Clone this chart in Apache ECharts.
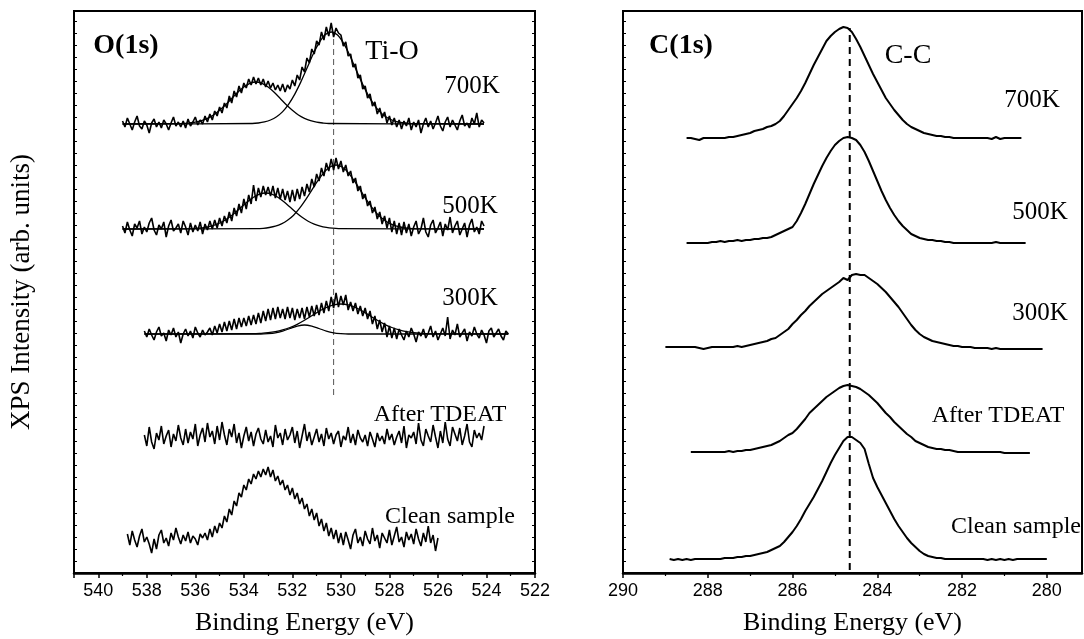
<!DOCTYPE html>
<html>
<head>
<meta charset="utf-8">
<script src="https://cdn.jsdelivr.net/npm/echarts@6/dist/echarts.min.js"></script>
<style>
  html, body { margin: 0; padding: 0; background: #fff; }
  #chart { width: 1084px; height: 639px; }
</style>
</head>
<body>
<div id="chart"></div>
<script>
// Energy grid spacing of the recorded spectra (eV)
const STEP = 0.1;

// ---------- O(1s) region: raw spectra (stacked intensity, arb. units) ----------
const o1sStart = { k700: 539.0, k500: 539.0, k300: 538.1, tdeat: 538.1, clean: 538.8 };

const o1s700K = [
  452, 446, 455, 449, 443, 451, 457, 447, 444, 452, 448, 440, 450, 454, 446, 451, 445, 453, 449, 443, 450, 456, 447, 451, 446,
  452, 445, 454, 447, 451, 456, 448, 453, 449, 457, 451, 459, 453, 462, 457, 466, 460, 470, 465, 477, 470, 482, 476, 487, 480,
  490, 485, 494, 488, 496, 489, 495, 488, 494, 486, 492, 485, 490, 483, 488, 482, 489, 481, 488, 484, 493, 487, 498, 493, 506,
  501, 515, 510, 524, 519, 532, 528, 541, 533, 546, 537, 550, 536, 545, 540, 538, 527, 531, 517, 519, 506, 509, 495, 498, 484,
  487, 475, 479, 467, 471, 459, 465, 455, 461, 450, 457, 448, 455, 446, 453, 444, 452, 447, 455,
  443, 451, 446, 453, 440, 449, 455, 446, 452, 444, 450, 457, 447, 442, 451, 456, 446, 453, 448, 443, 452, 458, 447, 450, 445, 455, 449, 460, 446, 453, 450
];

const o1s500K = [
  347, 340, 351, 343, 337, 349, 345, 352, 339, 346, 341, 350, 355, 343, 338, 348, 344, 351, 336, 347, 353, 342, 345, 349, 340, 352, 346, 338, 350,
  341, 348, 342, 351, 339, 349, 343, 352, 344, 353, 345, 355, 347, 357, 350, 361, 352, 365, 357, 369, 360, 374, 364, 378, 369,
  388, 372, 385, 376, 387, 378, 386, 377, 387, 375, 385, 374, 384, 373, 382, 371, 383, 372, 384, 374, 386, 377, 389, 381, 394,
  386, 399, 392, 405, 397, 410, 402, 414, 403, 415, 404, 412, 401, 408, 397, 402, 390, 395, 382, 387, 374, 379, 367, 372, 360,
  366, 354, 361, 349, 357, 345, 355, 341, 352, 339, 350, 338, 351, 340, 349, 337,
  346, 352, 339, 344, 355, 341, 336, 348, 353, 340, 345, 351, 337, 349, 343, 356, 340, 347, 352, 338, 344, 350, 336, 348, 354, 341, 346, 339, 352, 347
];

const o1s300K = [
  242, 236, 244, 238, 233, 241, 246, 237, 240, 232, 243, 238, 245, 236, 241, 230, 239, 244, 237, 242, 235, 246, 240, 236, 243, 238, 241,
  245, 238, 247, 240, 249, 241, 251, 242, 252, 243, 254, 244, 255, 246, 255, 247, 257, 248, 258, 249, 260, 250, 262, 252, 264,
  253, 265, 254, 266, 255, 264, 254, 266, 255, 265, 253, 264, 255, 265, 254, 266, 256, 267, 257, 268, 258, 270, 260, 272, 262,
  276, 265, 280, 266, 277, 268, 278, 263, 271, 262, 270, 259, 267, 257, 265, 254, 262, 249, 257, 244, 253, 241, 250, 236, 247,
  235, 245, 234, 244,
  238, 233, 242, 236, 245, 239, 231, 241, 237, 244, 235, 240, 247, 236, 242, 233, 239, 245, 237, 256, 234, 243, 238, 249, 236,
  240, 244, 232, 241, 237, 246, 239, 235, 243, 238, 230, 242, 245, 236, 240, 244, 237, 233, 242, 239
];

const o1sTDEAT = [
  138, 127, 146, 131, 124, 140, 133, 147, 129, 137, 143, 126, 139, 132, 148, 135, 128, 144, 130, 141,
  134, 149, 127, 138, 145, 131, 150, 136, 142, 129, 147, 133, 151, 138, 128, 144, 136, 149, 130, 140,
  125, 137, 146, 132, 141, 127, 139, 145, 134, 129, 143, 131, 137, 126, 148, 135, 140, 128, 144, 133,
  138, 146, 130, 142, 125, 137, 149, 132, 141, 128, 136, 144, 131, 139, 127, 145, 134, 140, 129, 138,
  142, 126, 137, 133, 146, 130, 139, 128, 143, 135, 131, 138, 127, 141, 134, 126, 140, 132, 137, 129,
  144, 133, 139, 128, 136, 142, 130, 147, 125, 138, 135, 141, 129, 150, 133, 127, 144, 137, 131, 148,
  136, 125, 142, 130, 151, 134, 127, 146, 139, 132, 145, 128, 137, 149, 131, 126, 143, 135, 140, 133, 147
];

const o1sClean = [
  39, 28, 42, 33, 26, 37, 44, 31, 36, 29, 20, 34, 24, 38, 43, 30, 35, 27, 40, 33, 45, 36, 29, 38, 32, 41, 30, 37, 34, 28, 39, 35,
  40, 33, 44, 36, 47, 40, 50, 45, 57, 51, 64, 58, 72, 67, 80, 76, 88, 83, 94, 89, 99, 94, 102, 96, 104, 98, 106, 96,
  103, 92, 97, 88, 93, 83, 88, 78, 85, 74, 80, 69, 75, 64, 69, 57, 64, 53, 60, 47, 54, 42, 50, 37, 45, 34, 43, 30, 40,
  28, 41, 33, 24, 38, 44, 30, 36, 27, 42, 34, 29, 45, 32, 38, 25, 40, 35, 30, 43,
  28, 37, 46, 31, 36, 26, 41, 33, 39, 29, 44, 34, 27, 40, 31, 47, 30, 38, 22, 35
];

// ---------- O(1s) peak-fit components [eV, intensity] ----------
const fit700Low = [[539.0,449],[536.5,449.5],[536.25,450],[536.0,450.8],[535.75,452.3],[535.5,454.7],[535.25,458],[535.0,462.7],[534.75,468.2],[534.5,474.5],[534.25,480.7],[534.0,486],[533.75,489.7],[533.5,491],[533.25,489.7],[533.0,486],[532.75,480.7],[532.5,474.5],[532.25,468.2],[532.0,462.7],[531.75,458],[531.5,454.7],[531.25,452.3],[531.0,450.8],[530.75,450],[530.5,449.5],[524.1,449]];
const fit700TiO = [[539.0,449],[533.65,449.5],[533.4,450],[533.15,451.1],[532.9,453],[532.65,456.3],[532.4,461.4],[532.15,468.9],[531.9,478.9],[531.65,491.1],[531.4,504.8],[531.15,518.5],[530.9,530.1],[530.65,538.2],[530.4,541],[530.15,538.2],[529.9,530.1],[529.65,518.5],[529.4,504.8],[529.15,491.1],[528.9,478.9],[528.65,468.9],[528.4,461.4],[528.15,456.3],[527.9,453],[527.65,451.1],[527.4,450],[527.15,449.5],[524.1,449]];
const fit500Low = [[539.0,344],[536.1,344.4],[535.85,344.8],[535.6,345.6],[535.35,346.9],[535.1,348.9],[534.85,351.8],[534.6,355.7],[534.35,360.5],[534.1,365.9],[533.85,371.2],[533.6,375.8],[533.35,378.9],[533.1,380],[532.85,378.9],[532.6,375.8],[532.35,371.2],[532.1,365.9],[531.85,360.5],[531.6,355.7],[531.35,351.8],[531.1,348.9],[530.85,346.9],[530.6,345.6],[530.35,344.8],[530.1,344.4],[524.1,344]];
const fit500TiO = [[539.0,344],[533.45,344.3],[533.2,344.7],[532.95,345.5],[532.7,346.8],[532.45,349.1],[532.2,352.7],[531.95,357.8],[531.7,364.8],[531.45,373.3],[531.2,382.8],[530.95,392.3],[530.7,400.4],[530.45,406],[530.2,408],[529.95,406],[529.7,400.4],[529.45,392.3],[529.2,382.8],[528.95,373.3],[528.7,364.8],[528.45,357.8],[528.2,352.7],[527.95,349.1],[527.7,346.8],[527.45,345.5],[527.2,344.7],[526.95,344.3],[524.1,344]];
const fit300Low = [[538.1,239],[533.3,239],[533.0,239.4],[532.7,240.2],[532.4,241.9],[532.1,244.5],[531.8,246.9],[531.5,248],[531.2,246.9],[530.9,244.5],[530.6,241.9],[530.3,240.2],[530.0,239.4],[529.7,239],[523.1,239]];
const fit300TiO = [[538.1,239],[533.6,239.3],[533.3,239.7],[533.0,240.3],[532.7,241.4],[532.4,243.1],[532.1,245.5],[531.8,248.7],[531.5,252.7],[531.2,257.2],[530.9,261.7],[530.6,265.5],[530.3,268.1],[530.0,269],[529.7,268.1],[529.4,265.5],[529.1,261.7],[528.8,257.2],[528.5,252.7],[528.2,248.7],[527.9,245.5],[527.6,243.1],[527.3,241.4],[527.0,240.3],[526.7,239.7],[526.4,239.3],[523.1,239]];

// Ti-O reference energy, drawn between these intensities
const tiOMarker = { energy: 530.3, low: 178, high: 538 };

// ---------- C(1s) region (stacked intensity, arb. units) ----------
const c1sStart = { k700: 288.5, k500: 288.5, k300: 289.0, tdeat: 288.4, clean: 288.9 };

const c1s700K = [
  435,435,434,433,435,435,435,435,435,435,
  436,436,437,438,439,440,442,443,444,446,
  447,449,452,457,463,469,475,482,490,499,
  508,516,524,532,537,541,544,546,545,541,
  534,526,517,508,499,491,483,475,469,463,
  458,453,449,446,444,442,440,439,438,437,
  437,436,436,435,435,435,435,435,435,435,
  435,435,434,436,434,435,435,435,435,435
];
const c1s500K = [
  330,330,330,330,330,330,331,331,332,331,
  332,332,333,332,333,333,334,334,335,335,
  336,338,340,342,344,346,352,360,369,379,
  389,398,407,415,422,428,432,435,436,435,
  433,428,421,412,402,392,382,373,365,358,
  352,347,343,339,337,335,334,333,333,332,
  332,331,331,330,330,330,330,330,330,330,
  330,330,330,331,330,330,330,330,330,330,
  330
];
const c1s300K = [
  226,226,226,226,226,226,226,226,225,224,
  225,226,226,226,226,226,226,227,226,227,
  228,229,230,231,232,234,235,238,241,244,
  249,253,258,262,267,271,275,279,282,285,
  288,291,295,293,298,299,298,298,295,292,
  289,285,281,276,271,266,260,254,248,243,
  239,236,234,232,231,230,229,228,227,227,
  226,226,226,225,225,225,225,224,225,224,
  224,224,224,224,224,224,224,224,224,224
];
const c1sTDEAT = [
  121,121,121,121,121,121,121,121,121,122,
  121,122,122,123,123,124,125,126,127,128,
  130,132,135,138,140,144,149,154,160,164,
  168,172,176,179,182,185,187,188,187,186,
  184,181,178,174,170,165,160,156,151,147,
  143,139,136,132,130,128,126,125,124,124,
  123,123,122,121,121,121,121,121,121,121,
  121,121,121,121,120,120,120,120,120,120,
  120
];
const c1sClean = [
  14,13,14,13,14,13,14,14,14,14,
  14,14,14,15,15,15,16,16,17,17,
  18,19,20,21,23,25,27,31,36,41,
  47,54,62,69,76,84,92,101,110,118,
  125,132,136,136,133,130,124,109,95,86,
  78,70,62,54,47,41,35,30,26,22,
  19,17,16,15,15,14,14,14,14,14,
  14,14,14,14,14,13,14,13,14,13,
  14,13,14,14,14,14,14,14,14,14
];

// C-C reference energy
const ccMarker = { energy: 284.65, low: 3, high: 545 };

// Axis ticks
const oTicks = [522, 524, 526, 528, 530, 532, 534, 536, 538, 540];
const cTicks = [280, 282, 284, 286, 288, 290];
const cMinorTicks = [281, 283, 285, 287, 289];

// ---------- drawing ----------
function spectrum(start, values) {
  return values.map((v, i) => [+(start - i * STEP).toFixed(2), v]);
}

const SERIF = '"Liberation Serif", "Times New Roman", "DejaVu Serif", serif';
const SANS = '"Liberation Sans", Arial, sans-serif';
const INK = '#000';

function trace(xi, data, width, smooth) {
  return {
    type: 'line', xAxisIndex: xi, yAxisIndex: xi === 0 ? 0 : 2,
    data: data, showSymbol: false, smooth: smooth || false,
    lineStyle: { color: INK, width: width }, silent: true, z: 3
  };
}
function marker(xi, m, style) {
  return {
    type: 'line', xAxisIndex: xi, yAxisIndex: xi === 0 ? 0 : 2,
    data: [[m.energy, m.low], [m.energy, m.high]], showSymbol: false,
    lineStyle: style, silent: true, z: 2
  };
}

const series = [
  trace(0, spectrum(o1sStart.k700, o1s700K), 1.6),
  trace(0, spectrum(o1sStart.k500, o1s500K), 1.6),
  trace(0, spectrum(o1sStart.k300, o1s300K), 1.6),
  trace(0, spectrum(o1sStart.tdeat, o1sTDEAT), 1.6),
  trace(0, spectrum(o1sStart.clean, o1sClean), 1.6),
  trace(0, fit700Low, 1.3, 0.3),
  trace(0, fit700TiO, 1.3, 0.3),
  trace(0, fit500Low, 1.3, 0.3),
  trace(0, fit500TiO, 1.3, 0.3),
  trace(0, fit300Low, 1.3, 0.3),
  trace(0, fit300TiO, 1.3, 0.3),
  marker(0, tiOMarker, { color: '#555', width: 1, type: [6, 4] }),
  trace(1, spectrum(c1sStart.k700, c1s700K), 2),
  trace(1, spectrum(c1sStart.k500, c1s500K), 2),
  trace(1, spectrum(c1sStart.k300, c1s300K), 2),
  trace(1, spectrum(c1sStart.tdeat, c1sTDEAT), 2),
  trace(1, spectrum(c1sStart.clean, c1sClean), 2),
  marker(1, ccMarker, { color: INK, width: 2, type: [7, 5] })
];

const labelStyle = { fontFamily: SANS, fontSize: 18, color: INK, margin: 9 };
const nameStyle = { fontFamily: SERIF, fontSize: 26, color: INK };

const yBase = {
  type: 'value', min: 0, max: 562, interval: 12,
  axisLine: { show: true, lineStyle: { color: INK, width: 2 } },
  axisTick: { show: true, inside: true, length: 3, lineStyle: { color: INK, width: 1 } },
  axisLabel: { show: false }, splitLine: { show: false }
};

function text(str, x, y, size, bold) {
  return {
    type: 'text', x: x, y: y, silent: true,
    style: {
      text: str, fill: INK, align: 'center', verticalAlign: 'middle',
      font: (bold ? 'bold ' : '') + size + 'px ' + SERIF
    }
  };
}

const gridBase = {
  top: 11, bottom: 66, show: true, borderColor: INK, borderWidth: 2,
  containLabel: false, outerBoundsMode: 'none'
};

const option = {
  backgroundColor: '#fff',
  animation: false,
  grid: [
    Object.assign({ left: 74, right: 549 }, gridBase),
    Object.assign({ left: 623, right: 2 }, gridBase)
  ],
  xAxis: [
    {
      gridIndex: 0, type: 'value', min: 522, max: 541, interval: 2, inverse: true, position: 'bottom',
      axisLine: { lineStyle: { color: INK, width: 2.5 } },
      axisTick: { length: 5, lineStyle: { color: INK, width: 1.5 } },
      minorTick: { show: true, splitNumber: 2, length: 3, lineStyle: { color: INK, width: 1.2 } },
      axisLabel: Object.assign({}, labelStyle, {
        formatter: v => (oTicks.indexOf(Math.round(v)) >= 0 && Math.abs(v - Math.round(v)) < 1e-6) ? String(Math.round(v)) : ''
      }),
      splitLine: { show: false }, minorSplitLine: { show: false },
      name: 'Binding Energy (eV)', nameLocation: 'middle', nameGap: 37, nameTextStyle: nameStyle
    },
    {
      gridIndex: 1, type: 'value', min: 279.17, max: 290, inverse: true, position: 'bottom',
      axisLine: { lineStyle: { color: INK, width: 2.5 } },
      axisTick: { length: 5, customValues: cTicks, lineStyle: { color: INK, width: 1.5 } },
      axisLabel: Object.assign({}, labelStyle, { customValues: cTicks }),
      splitLine: { show: false },
      name: 'Binding Energy (eV)', nameLocation: 'middle', nameGap: 37, nameTextStyle: nameStyle
    },
    {
      gridIndex: 1, type: 'value', min: 279.17, max: 290, inverse: true, position: 'bottom',
      axisLine: { show: false },
      axisTick: { length: 3, customValues: cMinorTicks, lineStyle: { color: INK, width: 1.2 } },
      axisLabel: { show: false, customValues: cMinorTicks },
      splitLine: { show: false }
    }
  ],
  yAxis: [
    Object.assign({}, yBase, {
      gridIndex: 0, position: 'left',
      name: 'XPS Intensity (arb. units)', nameLocation: 'middle', nameGap: 39,
      nameTextStyle: { fontFamily: SERIF, fontSize: 27, color: INK }
    }),
    Object.assign({}, yBase, { gridIndex: 0, position: 'right' }),
    Object.assign({}, yBase, { gridIndex: 1, position: 'left' })
  ],
  series: series,
  graphic: [
    text('O(1s)', 126, 46, 28, true),
    text('Ti-O', 392, 52, 28),
    text('700K', 472, 86, 25),
    text('500K', 470, 206, 25),
    text('300K', 470, 298, 25),
    text('After TDEAT', 440, 415, 24),
    text('Clean sample', 450, 517, 24),
    text('C(1s)', 681, 46, 28, true),
    text('C-C', 908, 56, 28),
    text('700K', 1032, 100, 25),
    text('500K', 1040, 212, 25),
    text('300K', 1040, 313, 25),
    text('After TDEAT', 998, 416, 24),
    text('Clean sample', 1016, 527, 24)
  ]
};

const chart = echarts.init(document.getElementById('chart'), null, { renderer: 'canvas' });
chart.setOption(option);
</script>
</body>
</html>
